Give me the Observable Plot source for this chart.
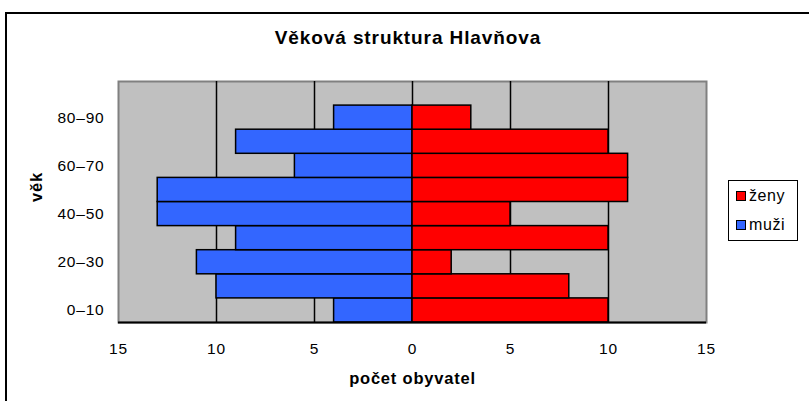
<!DOCTYPE html>
<html>
<head>
<meta charset="utf-8">
<script src="https://cdn.jsdelivr.net/npm/d3@7"></script>
<script src="https://cdn.jsdelivr.net/npm/@observablehq/plot@0.6"></script>
<style>
  html, body { margin: 0; padding: 0; background: #fff; }
  #wrap { position: relative; width: 809px; height: 401px; overflow: hidden; font-family: "Liberation Sans", Arial, sans-serif; }
  #border { position: absolute; left: 5px; top: 12px; width: 900px; height: 500px; border: 2px solid #000; box-sizing: border-box; }
  #title { position: absolute; left: 0; top: 27px; width: 816px; text-align: center; font-weight: bold; font-size: 19px; letter-spacing: 0.9px; color: #000; }
  #legend { position: absolute; left: 728px; top: 180px; width: 70px; height: 61px; border: 1.5px solid #000; box-sizing: border-box; background: #fff; font-size: 16px; letter-spacing: 0.6px; }
  .item { position: absolute; left: 7px; display: flex; align-items: center; height: 12px; }
  .sw { width: 10px; height: 10px; border: 1.5px solid #000; box-sizing: border-box; margin-right: 3px; }
  svg { position: absolute; left: 0; top: 0; }
  svg text { letter-spacing: 0.8px; }
</style>
</head>
<body>
<div id="wrap">
  <div id="border"></div>
  <div id="chart"></div>
  <div id="title">Věková struktura Hlavňova</div>
  <div id="legend"></div>
</div>
<script>
const ages = ["0–10", "10–20", "20–30", "30–40", "40–50", "50–60", "60–70", "70–80", "80–90"];
const ageStart = [0, 10, 20, 30, 40, 50, 60, 70, 80];
const muzi = [4, 10, 11, 9, 13, 13, 6, 9, 4];
const zeny = [10, 8, 2, 10, 5, 11, 11, 10, 3];
const xTicks = [-15, -10, -5, 0, 5, 10, 15];
const gridX = [-10, -5, 0, 5, 10];
const seriesNames = ["ženy", "muži"];
const seriesColors = ["#ff0000", "#3366ff"];

const rows = [];
ages.forEach((a, i) => {
  rows.push({age: a, y1: ageStart[i], y2: ageStart[i] + 10, x1: 0, x2: -muzi[i], s: "muži"});
  rows.push({age: a, y1: ageStart[i], y2: ageStart[i] + 10, x1: 0, x2: zeny[i], s: "ženy"});
});

const chart = Plot.plot({
  width: 809,
  height: 401,
  marginLeft: 118,
  marginRight: 103,
  marginTop: 81,
  marginBottom: 79,
  style: {fontFamily: "'Liberation Sans', Arial, sans-serif", fontSize: "15px", color: "#000", background: "transparent"},
  x: {domain: [-15, 15]},
  y: {domain: [0, 100]},
  color: {domain: seriesNames, range: seriesColors},
  marks: [
    Plot.frame({fill: "#c0c0c0", stroke: "#808080", strokeWidth: 2}),
    Plot.ruleX(gridX, {y1: 0, y2: 100, stroke: "#000", strokeWidth: 1.5}),
    Plot.rect(rows, {x1: "x1", x2: "x2", y1: "y1", y2: "y2", fill: "s", stroke: "#000", strokeWidth: 1.5}),
    Plot.ruleY([0], {stroke: "#000", strokeWidth: 2}),
    Plot.axisX(xTicks, {tickSize: 0, tickPadding: 20, tickFormat: d => Math.abs(d), fontSize: 15.5, label: null}),
    Plot.axisY(ageStart.filter((d, i) => i % 2 === 0).map(d => d + 5), {tickSize: 0, tickPadding: 14, tickFormat: d => ages[(d - 5) / 10], fontSize: 15.5, label: null}),
    Plot.text(["počet obyvatel"], {frameAnchor: "bottom", dy: 61, fontWeight: "bold", fontSize: 16.5}),
    Plot.text(["věk"], {frameAnchor: "left", dx: -82, rotate: -90, fontWeight: "bold", fontSize: 16.5})
  ]
});
document.getElementById("chart").appendChild(chart);

const legend = document.getElementById("legend");
seriesNames.forEach((n, i) => {
  const it = document.createElement("div");
  it.className = "item";
  it.style.top = (9 + i * 29) + "px";
  const sw = document.createElement("div");
  sw.className = "sw";
  sw.style.background = seriesColors[i];
  it.appendChild(sw);
  const t = document.createElement("span");
  t.textContent = n;
  it.appendChild(t);
  legend.appendChild(it);
});
</script>
</body>
</html>
